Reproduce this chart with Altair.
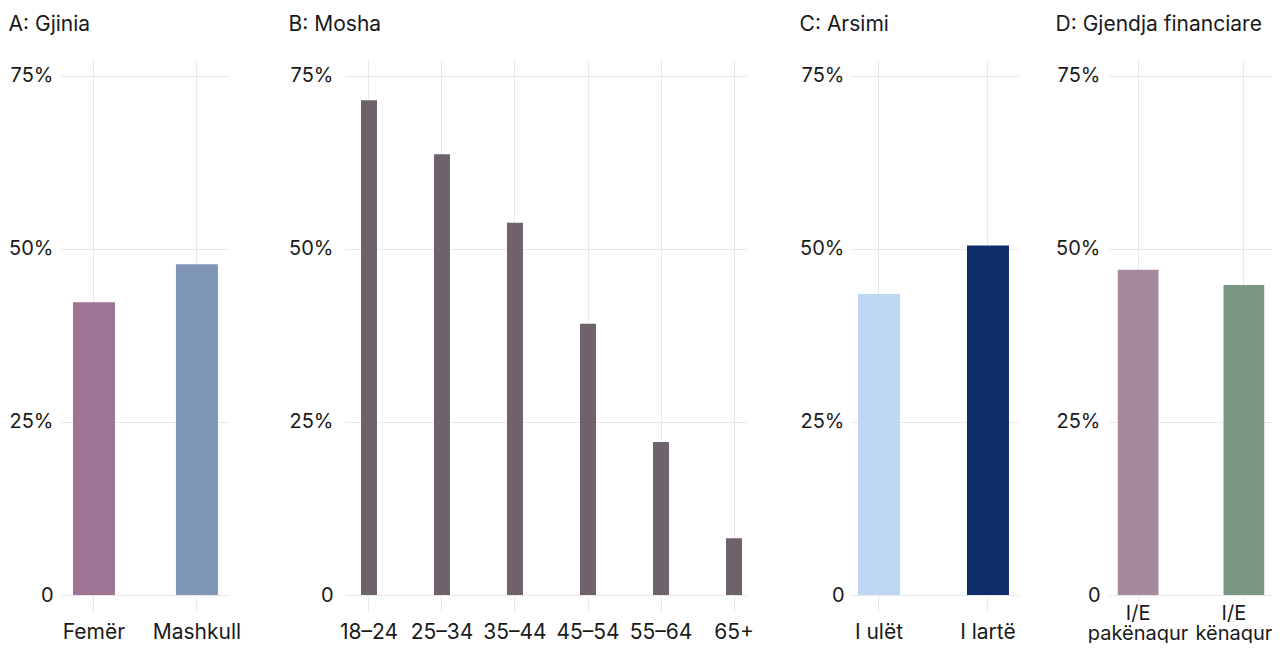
import altair as alt
import pandas as pd

A_cats = ["Femër", "Mashkull"]
A_vals = [0.423, 0.478]
A_colors = ["#9e7494", "#8096b8"]

B_cats = ["18–24", "25–34", "35–44", "45–54", "55–64", "65+"]
B_vals = [0.715, 0.637, 0.538, 0.392, 0.221, 0.082]
B_colors = ["#6e636c"] * 6

C_cats = ["I ulët", "I lartë"]
C_vals = [0.435, 0.505]
C_colors = ["#bdd8f0", "#0d2c6a"]

D_cats = ["I/E pakënaqur", "I/E kënaqur"]
D_vals = [0.470, 0.448]
D_colors = ["#a58a9e", "#7a9785"]

Y_TICKS = [0, 0.25, 0.5, 0.75]
GRID = "#e8e8e8"
FONT = "Inter"
FS = 21
YFS = 20
TXT = "#1a1a1a"
H = 535


def panel(title, cats, vals, colors, width, pi, po, align, ypad, multiline=False):
    df = pd.DataFrame({"cat": cats, "val": vals, "col": colors})
    if multiline:
        xextra = dict(
            labelExpr="split(datum.label, ' ')", tickSize=6, labelPadding=2,
            labelFontSize=20, labelLineHeight=20,
            labelOffset={"condition": {"test": f"datum.value == '{cats[-1]}'", "value": -10},
                         "value": 0},
        )
    else:
        xextra = dict(tickSize=17, labelPadding=9, labelFontSize=FS)
    xaxis = alt.Axis(
        title=None, labelAngle=0, grid=True, gridColor=GRID, domain=False,
        ticks=True, tickColor=GRID, labelColor=TXT, labelFont=FONT, **xextra,
    )
    yaxis = alt.Axis(
        title=None, values=Y_TICKS, grid=True, gridColor=GRID, domain=False,
        ticks=False, labelPadding=ypad, labelFontSize=YFS, labelColor=TXT,
        labelFont=FONT,
        labelExpr="datum.value == 0 ? '0' : format(datum.value, '.0%')",
    )
    return (
        alt.Chart(df)
        .mark_bar()
        .encode(
            x=alt.X("cat:N", sort=cats, axis=xaxis,
                    scale=alt.Scale(paddingInner=pi, paddingOuter=po, align=align)),
            y=alt.Y("val:Q", axis=yaxis, scale=alt.Scale(domain=[0, 0.773], nice=False)),
            color=alt.Color("col:N", scale=None, legend=None),
        )
        .properties(
            width=width, height=H,
            title=alt.TitleParams(title, anchor="start", fontSize=FS, fontWeight="normal",
                                  font=FONT, color=TXT, offset=25),
        )
    )


a = panel("A: Gjinia", A_cats, A_vals, A_colors, 169, 0.592, 0.1165, 0.54, 7)
b = panel("B: Mosha", B_cats, B_vals, B_colors, 401, 0.781, 0.137, 0.8, 12)
c = panel("C: Arsimi", C_cats, C_vals, C_colors, 168, 0.615, 0.078, 0.41, 7)
d = panel("D: Gjendja financiare", D_cats, D_vals, D_colors, 163, 0.615, 0.078, 0.53, 9,
          multiline=True)

chart = (
    alt.hconcat(
        alt.hconcat(alt.hconcat(a, b, spacing=47), c, spacing=45), d, spacing=36
    )
    .configure(font=FONT, padding={"left": 0, "top": 6, "right": 0, "bottom": 0})
    .configure_view(stroke=None)
)

chart.save("out.html", embed_options={"renderer": "svg", "actions": False})
